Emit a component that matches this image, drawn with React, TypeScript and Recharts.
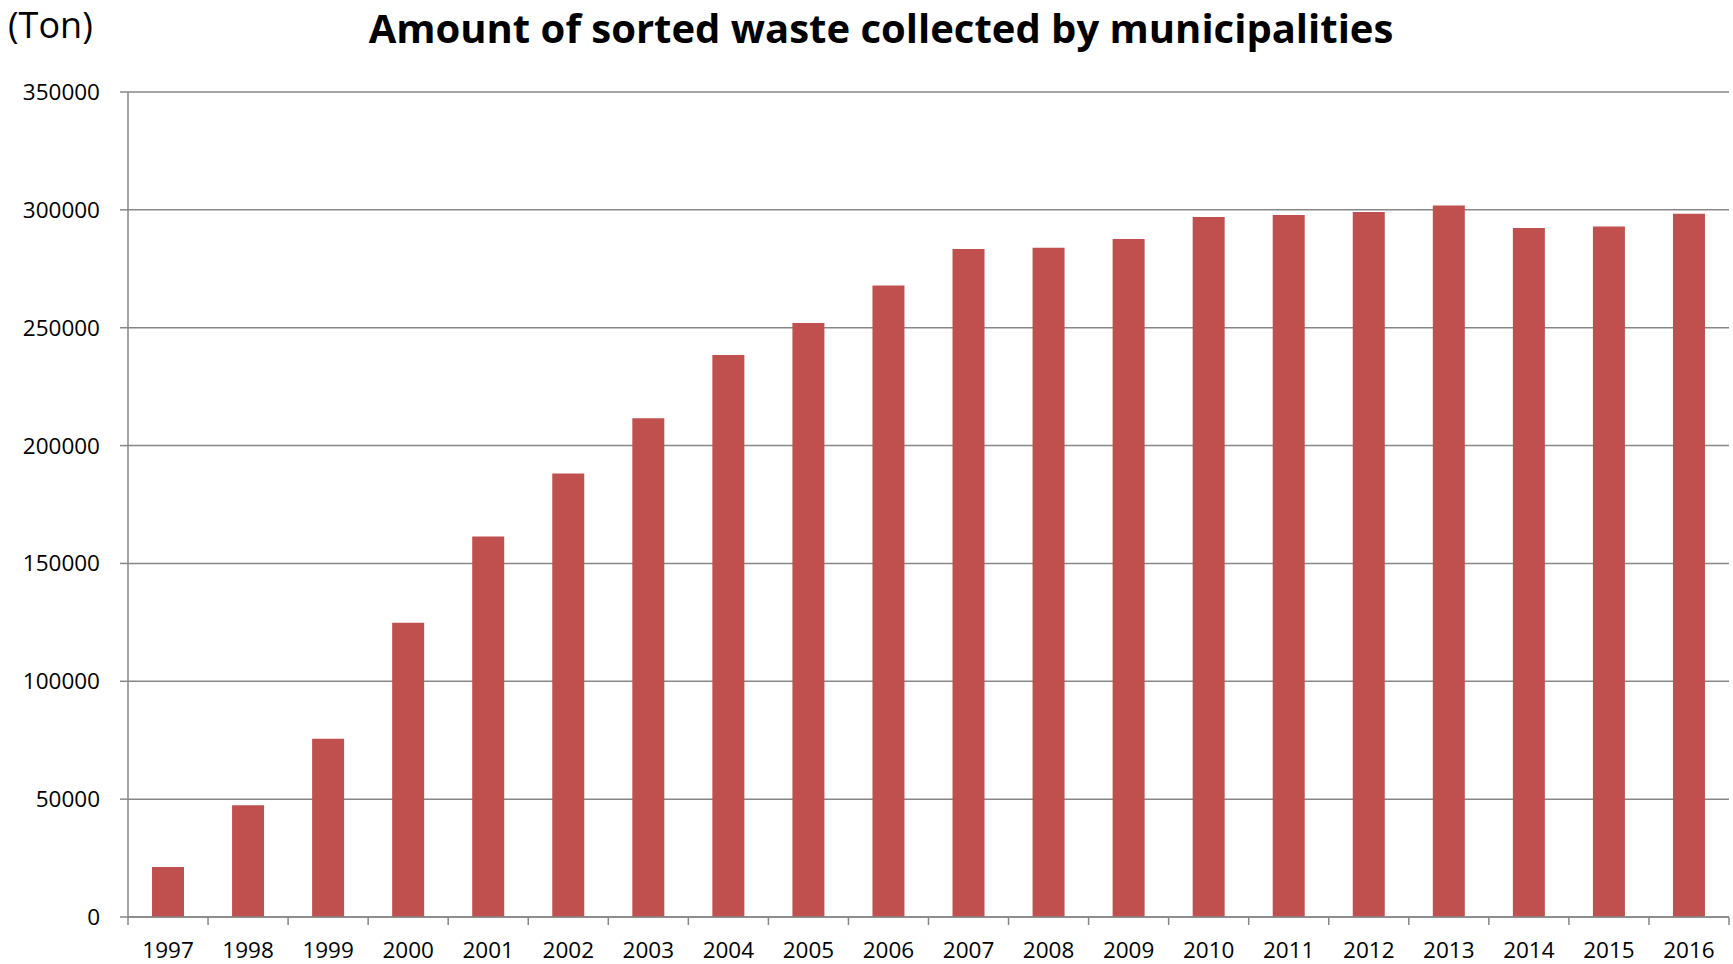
import { BarChart, Bar, XAxis, YAxis, CartesianGrid } from 'recharts'

const years = [
  '1997', '1998', '1999', '2000', '2001', '2002', '2003', '2004', '2005', '2006',
  '2007', '2008', '2009', '2010', '2011', '2012', '2013', '2014', '2015', '2016',
]
const tons = [
  21200, 47400, 75600, 124800, 161400, 188100, 211600, 238400, 252000, 267900,
  283400, 283900, 287600, 297000, 297800, 299100, 301800, 292300, 292900, 298400,
]
const yTicks = [0, 50000, 100000, 150000, 200000, 250000, 300000, 350000]

const W = 1733
const H = 964
const LEFT = 128
const RIGHT = 4
const GRAY = '#878787'
const FONT = '"Open Sans", sans-serif'
const band = (W - LEFT - RIGHT) / years.length

const data = years.map((year, i) => ({ year, tons: tons[i] }))

function YearTick(props: any) {
  const { x, y, payload, index } = props
  const half = band / 2
  const last = index === years.length - 1
  return (
    <g>
      <line x1={x - half} y1={y} x2={x - half} y2={y + 8} stroke={GRAY} strokeWidth={1.5} />
      {last && <line x1={x + half} y1={y} x2={x + half} y2={y + 8} stroke={GRAY} strokeWidth={1.5} />}
      <text x={x} y={y + 41} textAnchor="middle" fill="#000" fontSize={22.5} fontFamily={FONT}>
        {payload.value}
      </text>
    </g>
  )
}

export default function App() {
  return (
    <div style={{ position: 'absolute', left: 0, top: 0, width: W, height: H, background: '#fff' }}>
      <div
        style={{
          position: 'absolute', left: 8, top: 0, fontFamily: FONT, fontSize: 36, color: '#000',
        }}
      >
        (Ton)
      </div>
      <div
        style={{
          position: 'absolute', left: 0, width: 1762, top: 0, textAlign: 'center',
          fontFamily: FONT, fontWeight: 700, fontSize: 40, color: '#000',
        }}
      >
        Amount of sorted waste collected by municipalities
      </div>
      <BarChart
        width={W}
        height={H}
        data={data}
        margin={{ top: 92, right: RIGHT, bottom: 0, left: 0 }}
        barCategoryGap="30%"
      >
        <CartesianGrid vertical={false} stroke={GRAY} strokeWidth={1.5} />
        <XAxis
          dataKey="year"
          height={47}
          tickSize={0}
          tickMargin={0}
          axisLine={{ stroke: GRAY, strokeWidth: 1.5 }}
          tick={<YearTick />}
          interval={0}
        />
        <YAxis
          width={LEFT}
          domain={[0, 350000]}
          ticks={yTicks}
          tickSize={8}
          tickMargin={20}
          axisLine={{ stroke: GRAY, strokeWidth: 1.5 }}
          tickLine={{ stroke: GRAY, strokeWidth: 1.5 }}
          tick={{ fill: '#000', fontSize: 22.5, fontFamily: FONT }}
        />
        <Bar dataKey="tons" fill="#C0504D" isAnimationActive={false} />
      </BarChart>
    </div>
  )
}
